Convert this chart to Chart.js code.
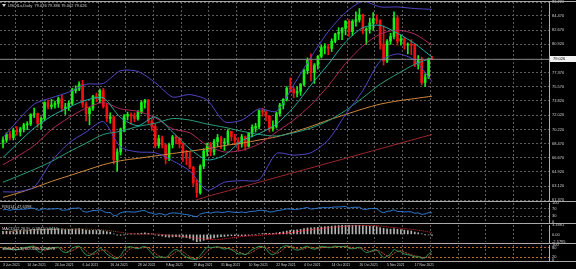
<!DOCTYPE html>
<html>
<head>
<meta charset="utf-8">
<title>USOILu Daily</title>
<script src="https://cdn.jsdelivr.net/npm/chart.js@4.4.1/dist/chart.umd.min.js"></script>
<style>
  html, body { margin: 0; padding: 0; background: #000; }
  #wrap { position: relative; width: 576px; height: 269px; overflow: hidden; background: #000; }
  #wrap canvas { position: absolute; left: 0; }
  .sep { position: absolute; left: 0; width: 576px; height: 1px; background: #a9a9a9; }
</style>
</head>
<body>
<div id="wrap">
  <canvas id="main" width="576" height="201" style="top:0"></canvas>
  <canvas id="rsi" width="576" height="21" style="top:202px"></canvas>
  <canvas id="macd" width="576" height="19" style="top:224px"></canvas>
  <canvas id="stoch" width="576" height="25" style="top:244px"></canvas>
  <div class="sep" style="top:1px"></div>
  <div class="sep" style="top:201px"></div>
  <div class="sep" style="top:223px"></div>
  <div class="sep" style="top:243px"></div>
  <div class="sep" style="top:261px"></div>
</div>
<script>
// ---------------------------------------------------------------------------
// Data — one bar per trading day, bar 0 = 3 Jun 2021, bar 124 = 24 Nov 2021
// ---------------------------------------------------------------------------

const opens = [
  68.6, 68.9, 69.6, 69.2, 70.1, 69.9, 70.3, 70.8, 70.9, 72.1,
  72.2, 71.0, 71.6, 73.6, 73.1, 73.3, 73.5, 74.1, 72.9, 73.0,
  73.5, 75.1, 75.3, 75.9, 73.4, 72.2, 72.9, 74.4, 74.1, 75.1,
  73.1, 71.6, 71.8, 66.4, 67.4, 70.3, 71.9, 72.1, 71.9, 71.6,
  72.4, 73.6, 73.9, 71.3, 70.6, 68.2, 69.1, 68.3, 66.5, 68.3,
  69.3, 69.1, 68.4, 67.3, 66.6, 65.5, 63.5, 62.3, 65.6, 67.5,
  68.4, 67.4, 68.7, 69.2, 68.5, 68.6, 70.0, 69.3, 68.8, 68.4,
  69.3, 68.1, 69.7, 70.4, 70.6, 72.6, 72.4, 71.9, 70.3, 70.6,
  72.2, 73.3, 74.0, 75.4, 75.3, 74.8, 75.0, 75.9, 77.6, 78.9,
  77.4, 78.3, 79.4, 80.5, 80.6, 80.4, 81.3, 82.2, 82.4, 82.9,
  83.8, 82.5, 83.8, 84.0, 84.6, 82.7, 82.8, 83.6, 84.1, 83.9,
  80.9, 78.8, 81.3, 81.9, 84.2, 81.3, 81.6, 80.8, 80.9, 80.8,
  78.4, 79.0, 76.1, 76.8, 79.076
];
const highs = [
  69.3, 69.8, 70.0, 70.4, 70.6, 70.5, 71.0, 71.2, 72.2, 72.9,
  72.3, 71.8, 73.7, 73.9, 74.0, 73.8, 74.3, 74.5, 73.5, 73.8,
  75.4, 75.7, 76.2, 76.4, 73.7, 73.0, 74.5, 74.8, 75.3, 75.4,
  73.5, 72.3, 71.9, 67.8, 70.4, 72.1, 72.4, 72.3, 72.3, 72.6,
  73.8, 74.0, 74.0, 71.6, 70.9, 69.5, 69.4, 68.4, 68.5, 69.5,
  69.5, 69.2, 68.5, 67.6, 67.4, 65.6, 63.9, 65.8, 67.8, 68.5,
  68.6, 69.0, 69.6, 69.4, 69.1, 70.2, 70.0, 69.6, 69.2, 69.6,
  69.4, 69.8, 70.8, 71.0, 72.7, 72.9, 72.6, 72.0, 71.3, 72.4,
  73.5, 74.1, 75.6, 76.7, 75.5, 75.6, 76.0, 77.8, 79.2, 79.7,
  78.5, 79.5, 80.8, 81.0, 80.9, 81.6, 82.3, 83.0, 83.0, 83.9,
  84.0, 84.0, 85.0, 85.4, 84.7, 83.0, 84.2, 84.9, 84.6, 84.0,
  83.2, 81.5, 82.3, 85.0, 84.5, 82.1, 81.8, 81.1, 81.5, 81.0,
  79.5, 79.3, 77.2, 79.2, 79.386
];
const lows = [
  67.9, 68.6, 68.9, 68.9, 69.5, 69.4, 69.9, 70.2, 70.7, 71.7,
  70.5, 70.3, 71.3, 72.8, 72.8, 72.9, 73.0, 72.5, 72.1, 72.6,
  73.3, 74.8, 75.1, 73.0, 71.3, 70.8, 72.6, 73.7, 73.6, 72.9,
  71.2, 71.0, 65.9, 65.0, 67.0, 69.9, 71.4, 70.9, 71.2, 71.4,
  72.2, 72.9, 71.0, 70.1, 67.9, 67.9, 67.9, 65.9, 66.3, 67.9,
  68.4, 67.9, 66.2, 65.8, 65.3, 63.1, 61.7, 62.1, 65.3, 66.9,
  66.9, 67.0, 68.1, 67.8, 67.6, 68.3, 68.8, 68.3, 67.6, 68.0,
  67.6, 68.0, 69.3, 69.9, 70.3, 71.9, 71.3, 69.9, 70.0, 70.4,
  71.9, 72.8, 73.8, 74.9, 74.2, 74.3, 74.5, 75.7, 77.2, 76.3,
  76.0, 77.8, 79.2, 79.7, 79.6, 80.0, 81.1, 81.5, 81.5, 82.1,
  81.9, 82.0, 83.2, 83.7, 82.2, 80.9, 82.3, 82.7, 83.5, 80.3,
  78.3, 78.6, 80.9, 81.6, 80.8, 80.8, 80.3, 79.7, 79.6, 78.1,
  77.8, 75.8, 75.6, 76.6, 79.002
];
const closes = [
  68.9, 69.6, 69.2, 70.1, 69.9, 70.3, 70.8, 70.9, 72.1, 72.2,
  71.0, 71.6, 73.6, 73.1, 73.3, 73.5, 74.1, 72.9, 73.0, 73.5,
  75.2, 75.3, 75.9, 73.4, 72.2, 72.9, 74.4, 74.1, 75.1, 73.1,
  71.6, 71.8, 66.4, 67.4, 70.3, 71.9, 72.1, 71.9, 71.6, 72.4,
  73.6, 73.9, 71.3, 70.6, 68.2, 69.1, 68.3, 66.5, 68.3, 69.3,
  69.1, 68.4, 67.3, 66.6, 65.5, 63.5, 62.3, 65.6, 67.5, 68.4,
  67.4, 68.7, 69.2, 68.5, 68.6, 70.0, 69.3, 68.8, 68.4, 69.3,
  68.1, 69.7, 70.5, 70.6, 72.6, 72.4, 71.9, 70.3, 70.6, 72.2,
  73.3, 74.0, 75.4, 75.3, 74.8, 75.0, 75.9, 77.6, 78.9, 77.4,
  78.3, 79.4, 80.5, 80.6, 80.4, 81.3, 82.2, 82.4, 82.9, 83.8,
  82.5, 83.8, 84.0, 84.6, 82.7, 82.8, 83.6, 84.1, 83.9, 80.9,
  78.8, 81.3, 81.9, 84.2, 81.3, 81.6, 80.8, 80.9, 80.8, 78.4,
  79.0, 76.1, 76.8, 79.07, 79.026
];
const BID = 79.026;

// moving averages / bands, sampled at these bars
const MA_BARS = [0, 4, 9, 14, 19, 24, 29, 34, 39, 44, 49, 54, 59, 64, 69, 74, 79, 84, 89, 94, 99, 104, 109, 114, 119, 124];
const sma10   = [66.7, 68.4, 70.4, 71.9, 73.0, 73.9, 74.2, 71.7, 70.7, 71.8, 69.9, 67.8, 66.4, 67.0, 68.8, 69.7, 70.9, 73.0, 75.8, 78.4, 81.2, 83.0, 83.3, 82.3, 81.0, 79.3];
const sma20   = [65.8, 66.8, 68.2, 70.2, 71.7, 72.9, 73.6, 72.8, 72.5, 71.7, 70.3, 69.8, 68.2, 67.4, 67.6, 68.4, 69.9, 71.4, 73.3, 75.7, 78.5, 80.7, 82.2, 82.7, 82.2, 80.8];
const bbUpper = [69.2, 71.2, 73.4, 74.2, 74.9, 75.9, 76.0, 77.6, 77.5, 76.1, 74.3, 74.6, 73.9, 71.2, 71.4, 72.8, 72.5, 75.8, 79.3, 82.5, 84.9, 86.3, 85.6, 85.6, 85.4, 85.3];
const bbLower = [62.4, 62.4, 63.0, 66.2, 68.5, 69.9, 71.2, 68.0, 67.4, 67.3, 66.3, 65.0, 62.6, 63.6, 63.8, 63.9, 67.2, 67.0, 67.3, 68.9, 72.1, 75.1, 78.8, 79.7, 78.9, 76.2];
const sma50   = [63.6, 64.3, 65.2, 66.2, 67.4, 68.5, 69.6, 70.0, 70.6, 71.0, 71.6, 71.4, 70.9, 70.5, 70.0, 69.6, 69.4, 69.8, 70.4, 71.3, 72.6, 74.2, 75.9, 77.2, 78.4, 79.2];
const sma100  = [61.7, 62.2, 62.9, 63.7, 64.4, 65.1, 65.8, 66.3, 66.6, 66.9, 67.2, 67.5, 67.8, 68.2, 68.5, 68.9, 69.3, 69.9, 70.6, 71.4, 72.1, 72.8, 73.4, 73.8, 74.1, 74.4];
const sma200  = [null, null, null, null, null, null, null, null, null, 59.8, 60.4, 61.1, 61.8, 62.4, 63.0, 63.6, 64.2, 64.8, 65.4, 66.0, 66.6, 67.2, 67.8, 68.4, 69.0, 69.6];

const rsi = [
  64, 66, 62, 66, 65, 67, 68, 69, 72, 72,
  62, 65, 70, 67, 69, 69, 71, 62, 63, 65,
  72, 72, 74, 58, 52, 55, 61, 60, 64, 56,
  49, 50, 33, 37, 48, 53, 54, 53, 52, 55,
  59, 60, 50, 47, 40, 44, 42, 36, 44, 48,
  47, 45, 41, 39, 36, 31, 28, 41, 47, 50,
  47, 51, 53, 51, 51, 55, 53, 51, 50, 53,
  49, 54, 56, 57, 62, 61, 59, 53, 54, 59,
  62, 65, 69, 68, 66, 67, 69, 73, 76, 68,
  70, 73, 75, 76, 75, 77, 79, 79, 80, 82,
  73, 77, 77, 78, 67, 67, 70, 71, 70, 56,
  49, 56, 58, 64, 55, 56, 53, 54, 53, 46,
  48, 40, 43, 49, 47.64
];

const macdHist = [
  1.0, 1.1, 1.15, 1.25, 1.3, 1.35, 1.4, 1.45, 1.6, 1.7,
  1.65, 1.65, 1.8, 1.85, 1.9, 1.9, 1.95, 1.85, 1.75, 1.7,
  1.8, 1.85, 1.95, 1.75, 1.5, 1.35, 1.35, 1.3, 1.35, 1.2,
  0.95, 0.75, 0.15, -0.25, -0.3, -0.15, 0.0, 0.1, 0.15, 0.25,
  0.4, 0.5, 0.35, 0.15, -0.2, -0.35, -0.55, -0.85, -0.9, -0.85,
  -0.8, -0.85, -0.9, -1.1, -1.4, -1.95, -2.58, -2.35, -2.0, -1.65,
  -1.45, -1.2, -0.95, -0.8, -0.7, -0.5, -0.45, -0.45, -0.5, -0.4,
  -0.45, -0.35, -0.2, -0.1, 0.15, 0.3, 0.4, 0.35, 0.35, 0.5,
  0.7, 0.9, 1.15, 1.35, 1.45, 1.55, 1.7, 1.95, 2.2, 2.25,
  2.3, 2.4, 2.55, 2.65, 2.7, 2.8, 2.9, 3.0, 3.05, 3.15,
  3.05, 3.1, 3.15, 3.18, 3.0, 2.85, 2.8, 2.75, 2.65, 2.3,
  2.05, 1.9, 1.8, 1.95, 1.75, 1.6, 1.45, 1.3, 1.15, 0.8,
  0.55, 0.2, -0.05, -0.2, -0.3842
];
const SIG_BARS   = [0, 5, 10, 15, 20, 25, 30, 33, 36, 40, 44, 48, 52, 56, 59, 62, 66, 70, 74, 78, 82, 86, 90, 94, 98, 102, 106, 109, 112, 116, 120, 124];
const macdSignal = [0.8, 1.1, 1.45, 1.75, 1.8, 1.75, 1.4, 0.9, 0.4, 0.05, 0.15, -0.3, -0.75, -1.3, -1.65, -1.75, -1.2, -0.6, -0.35, 0.1, 0.45, 1.1, 1.7, 2.25, 2.65, 2.95, 3.0, 2.85, 2.45, 1.95, 1.45, 0.64];

const stochMain = [
  75, 82, 70, 72, 68, 74, 82, 85, 90, 92,
  60, 52, 80, 75, 80, 82, 85, 60, 50, 55,
  80, 88, 92, 60, 35, 30, 45, 60, 80, 65,
  40, 25, 10, 10, 30, 65, 85, 88, 80, 75,
  85, 90, 70, 45, 20, 20, 20, 15, 35, 60,
  70, 60, 35, 20, 10, 5, 5, 30, 60, 85,
  82, 85, 88, 80, 72, 78, 68, 55, 40, 42,
  35, 50, 70, 80, 90, 88, 75, 45, 35, 50,
  75, 90, 95, 88, 75, 65, 72, 85, 92, 78,
  72, 80, 90, 88, 82, 85, 92, 90, 88, 92,
  78, 75, 80, 85, 65, 50, 55, 65, 68, 40,
  15, 25, 40, 70, 60, 55, 40, 35, 30, 20,
  22, 12, 15, 40, 60
];
const stochSignal = [
  72, 76, 76, 75, 70, 71, 75, 80, 86, 89,
  81, 68, 64, 69, 78, 79, 82, 76, 65, 55,
  62, 74, 87, 80, 62, 42, 37, 45, 62, 68,
  62, 43, 25, 15, 17, 35, 60, 79, 84, 81,
  80, 83, 82, 68, 45, 28, 20, 18, 23, 37,
  55, 63, 55, 38, 22, 12, 7, 13, 32, 58,
  76, 84, 85, 84, 80, 77, 73, 67, 54, 46,
  39, 42, 52, 67, 80, 86, 84, 69, 52, 43,
  53, 72, 87, 91, 86, 76, 71, 74, 83, 85,
  81, 77, 81, 86, 87, 85, 86, 89, 90, 90,
  86, 82, 78, 80, 77, 67, 57, 57, 63, 58,
  41, 27, 27, 45, 57, 62, 52, 43, 35, 28,
  24, 18, 16, 22, 42
];

// axes
const PRICE_TICKS = [86.22, 84.47, 82.67, 80.92, 77.37, 75.57, 73.82, 72.02, 70.22, 68.47, 66.67, 64.92, 63.12, 61.37];
const DATE_BARS   = [0, 7, 15, 23, 31, 39, 47, 55, 63, 71, 79, 87, 95, 103, 111, 119];
const DATE_LABELS = ["3 Jun 2021", "14 Jun 2021", "24 Jun 2021", "6 Jul 2021", "16 Jul 2021", "28 Jul 2021",
                     "9 Aug 2021", "19 Aug 2021", "31 Aug 2021", "10 Sep 2021", "22 Sep 2021", "4 Oct 2021",
                     "14 Oct 2021", "26 Oct 2021", "5 Nov 2021", "17 Nov 2021"];
const GRID_BARS   = [3.5, 11.5, 19.5, 27.5, 35.5, 43.5, 51.5, 59.5, 67.5, 75.5, 83.5, 91.5, 99.5, 107.5, 115.5, 123.5, 131.5, 139.5, 147.5, 155.5];
const X_MIN = -0.87, X_MAX = 157.8;

// ---------------------------------------------------------------------------
// Look
// ---------------------------------------------------------------------------

const FONT = '"Liberation Sans", Arial, sans-serif';
const TEXT = "#d2d2d2";
const GRID = "#5c5c5c";
const FRAME = "#b0b0b0";
const BULL = "#16f016";
const BEAR = "#f01010";

Chart.defaults.font.family = FONT;

// ---------------------------------------------------------------------------
// Helpers
// ---------------------------------------------------------------------------

const pts = (bars, vals) => bars.map((b, i) => ({ x: b, y: vals[i] }));
const perBar = vals => vals.map((v, i) => ({ x: i, y: v }));

function line(data, color, dash) {
    return {
        type: "line", data, borderColor: color, borderWidth: 1, borderDash: dash || [],
        pointRadius: 0, fill: false, tension: 0.25,
    };
}

function xGridAxis() {
    return {
        type: "linear", min: X_MIN, max: X_MAX, offset: false,
        grid: { color: GRID, drawTicks: false, offset: false },
        border: { display: false, dash: [2, 2] },
        ticks: { display: false },
        afterBuildTicks: (s) => { s.ticks = GRID_BARS.map((v) => ({ value: v })); },
        afterFit: (s) => { s.height = 0; s.paddingLeft = 0; s.paddingRight = 0; },
    };
}

function dateAxis() {
    return {
        type: "linear", position: "bottom", min: X_MIN, max: X_MAX, offset: false,
        grid: { display: false, drawTicks: false },
        border: { display: false },
        ticks: {
            color: TEXT, font: { size: 3.4 }, padding: 3, align: "start",
            maxRotation: 0, autoSkip: false, callback: (v, i) => DATE_LABELS[i],
        },
        afterBuildTicks: (s) => { s.ticks = DATE_BARS.map((v) => ({ value: v })); },
        afterFit: (s) => { s.height = 9; s.paddingLeft = 0; s.paddingRight = 0; },
    };
}

function yAxis(min, max, ticks, fmt, gridColor) {
    return {
        position: "right", min, max,
        grid: { color: gridColor, drawTicks: false },
        border: { display: true, color: FRAME, dash: [2, 2] },
        ticks: { color: TEXT, font: { size: 4 }, padding: 3, autoSkip: false, callback: fmt },
        afterBuildTicks: (s) => { s.ticks = ticks.map((v) => ({ value: v })); },
        afterFit: (s) => { s.width = 27; s.paddingTop = 0; s.paddingBottom = 0; },
    };
}

// indicator caption in the top-left corner of each window
const paneLabel = {
    id: "paneLabel",
    afterDraw(chart, args, opts) {
        if (!opts.text) return;
        const { ctx, chartArea } = chart;
        ctx.save();
        ctx.fillStyle = TEXT;
        if (opts.icon) {
            ctx.beginPath();
            ctx.moveTo(chartArea.left + 2, chartArea.top + 2);
            ctx.lineTo(chartArea.left + 6, chartArea.top + 2);
            ctx.lineTo(chartArea.left + 4, chartArea.top + 5);
            ctx.fill();
        }
        ctx.font = `4px ${FONT}`;
        ctx.textBaseline = "top";
        ctx.fillText(opts.text, chartArea.left + opts.x, chartArea.top + opts.y);
        ctx.restore();
    },
};

// current bid price tag on the price scale
const bidTag = {
    id: "bidTag",
    afterDraw(chart) {
        const { ctx, chartArea } = chart;
        const y = chart.scales.y.getPixelForValue(BID);
        ctx.save();
        ctx.fillStyle = "#f2f2f2";
        ctx.fillRect(chartArea.right + 1, Math.round(y) - 3, 26, 6);
        ctx.fillStyle = "#000";
        ctx.font = `4px ${FONT}`;
        ctx.textBaseline = "middle";
        ctx.fillText(BID.toFixed(3), chartArea.right + 4, y);
        ctx.restore();
    },
};

function makeChart(id, datasets, scales, padding, label, extra) {
    return new Chart(document.getElementById(id), {
        type: "bar",
        data: { datasets },
        options: {
            responsive: false, animation: false, devicePixelRatio: 1, events: [],
            layout: { padding },
            plugins: { legend: { display: false }, tooltip: { enabled: false }, paneLabel: label },
            scales,
        },
        plugins: [paneLabel].concat(extra || []),
    });
}

// ---------------------------------------------------------------------------
// Main price window
// ---------------------------------------------------------------------------

const candleColors = closes.map((c, i) => (c >= opens[i] ? BULL : BEAR));

makeChart("main", [
    line([{ x: X_MIN, y: BID }, { x: X_MAX, y: BID }], "#8e8e8e"),
    line(pts(MA_BARS, sma10), "#1fb0a4"),
    line(pts(MA_BARS, sma20), "#b0285c"),
    line(pts(MA_BARS, bbUpper), "#5446c6"),
    line(pts(MA_BARS, bbLower), "#5446c6"),
    line(pts(MA_BARS, sma50), "#2a9c7c"),
    line(pts(MA_BARS, sma100), "#cf8a3c"),
    line(pts(MA_BARS, sma200), "#a0282c"),
    {
        data: opens.map((o, i) => ({ x: i, y: [o, closes[i]] })),
        backgroundColor: candleColors, barThickness: 2, grouped: false, minBarLength: 1,
    },
    {
        data: lows.map((l, i) => ({ x: i, y: [l, highs[i]] })),
        backgroundColor: candleColors, barThickness: 1, grouped: false,
    },
], {
    x: xGridAxis(),
    y: yAxis(61.37, 86.22, PRICE_TICKS, (v) => v.toFixed(3), GRID),
}, { top: 2, bottom: 1, left: 0, right: 0 },
{ text: "USOILu,Daily  79.076 79.386 79.002 79.026", x: 8, y: 1.5, icon: true }, [bidTag]);

// ---------------------------------------------------------------------------
// RSI(14)
// ---------------------------------------------------------------------------

makeChart("rsi", [
    line(perBar(rsi), "#2f7fd8"),
], {
    x: xGridAxis(),
    y: yAxis(0, 100, [100, 70, 30, 0], (v) => String(v),
        (ctx) => (ctx.tick && (ctx.tick.value === 70 || ctx.tick.value === 30) ? GRID : "rgba(0,0,0,0)")),
}, { top: 1, bottom: 1, left: 0, right: 0 },
{ text: "RSI(14) 47.6398", x: 2, y: 2 });

// ---------------------------------------------------------------------------
// MACD(12,26,9)
// ---------------------------------------------------------------------------

makeChart("macd", [
    line(pts(SIG_BARS, macdSignal), "#e02828", [1, 1]),
    { data: perBar(macdHist), backgroundColor: "#b4b4b4", barThickness: 1, grouped: false },
], {
    x: xGridAxis(),
    y: yAxis(-2.5795, 3.1881, [3.1881, 0, -2.5795], (v) => (v === 0 ? "0.00" : v.toFixed(4)), "rgba(0,0,0,0)"),
}, { top: 1, bottom: 1, left: 0, right: 0 },
{ text: "MACD(12,26,9) -0.3842 0.6414", x: 2, y: 1.5 });

// ---------------------------------------------------------------------------
// Stochastic(5,3,3)
// ---------------------------------------------------------------------------

makeChart("stoch", [
    line(perBar(stochMain), "#2f9a5c"),
    line(perBar(stochSignal), "#c8502a", [2, 1]),
], {
    x: xGridAxis(),
    xd: dateAxis(),
    y: yAxis(0, 100, [100, 80, 20, 0], (v) => String(v),
        (ctx) => (ctx.tick && (ctx.tick.value === 80 || ctx.tick.value === 20) ? "#b8702a" : "rgba(0,0,0,0)")),
}, { top: 1, bottom: 0, left: 0, right: 0 },
{ text: "Stoch(5,3,3) 60.0006 42.0078", x: 2, y: 1.5 });
</script>
</body>
</html>
